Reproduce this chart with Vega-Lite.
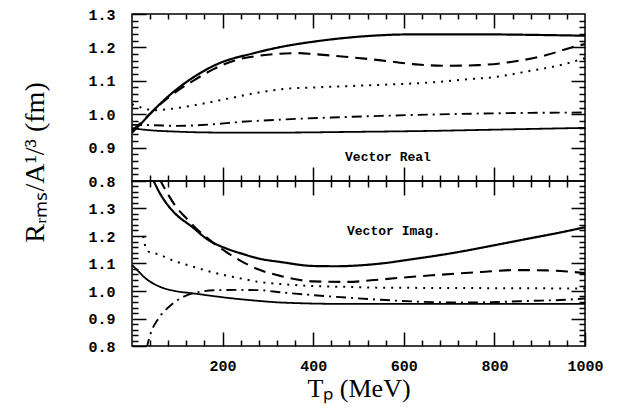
{
  "$schema": "https://vega.github.io/schema/vega-lite/v6.json",
  "padding": {"left": 20, "top": 6, "right": 5, "bottom": 5},
  "spacing": 0,
  "bounds": "flush",
  "config": {
    "view": {"stroke": "black", "strokeWidth": 1.5},
    "axis": {
      "domain": false, "grid": false, "ticks": true,
      "labelFont": "Liberation Mono", "labelFontSize": 15, "labelFontWeight": "bold", "labelColor": "black",
      "tickColor": "black", "tickWidth": 1.5, "tickOpacity": 1,
      "titleFont": "Liberation Serif", "titleFontWeight": "normal", "titleColor": "black",
      "labelOverlap": false, "labelFlush": false
    }
  },
  "datasets": {
    "real": [
      {"T": 0, "v": 0.945, "s": "thick"}, {"T": 20, "v": 0.972, "s": "thick"}, {"T": 50, "v": 1.015, "s": "thick"}, {"T": 90, "v": 1.065, "s": "thick"}, {"T": 135, "v": 1.11, "s": "thick"}, {"T": 185, "v": 1.148, "s": "thick"}, {"T": 270, "v": 1.183, "s": "thick"}, {"T": 335, "v": 1.203, "s": "thick"}, {"T": 400, "v": 1.217, "s": "thick"}, {"T": 510, "v": 1.233, "s": "thick"}, {"T": 620, "v": 1.239, "s": "thick"}, {"T": 770, "v": 1.239, "s": "thick"}, {"T": 910, "v": 1.237, "s": "thick"}, {"T": 1000, "v": 1.235, "s": "thick"},
      {"T": 0, "v": 0.95, "s": "dash"}, {"T": 20, "v": 0.975, "s": "dash"}, {"T": 50, "v": 1.015, "s": "dash"}, {"T": 90, "v": 1.06, "s": "dash"}, {"T": 135, "v": 1.1, "s": "dash"}, {"T": 180, "v": 1.135, "s": "dash"}, {"T": 225, "v": 1.16, "s": "dash"}, {"T": 300, "v": 1.178, "s": "dash"}, {"T": 370, "v": 1.183, "s": "dash"}, {"T": 400, "v": 1.18, "s": "dash"}, {"T": 470, "v": 1.172, "s": "dash"}, {"T": 545, "v": 1.162, "s": "dash"}, {"T": 620, "v": 1.15, "s": "dash"}, {"T": 690, "v": 1.145, "s": "dash"}, {"T": 765, "v": 1.147, "s": "dash"}, {"T": 840, "v": 1.157, "s": "dash"}, {"T": 915, "v": 1.177, "s": "dash"}, {"T": 970, "v": 1.2, "s": "dash"}, {"T": 1000, "v": 1.21, "s": "dash"},
      {"T": 0, "v": 1.03, "s": "dot"}, {"T": 20, "v": 1.02, "s": "dot"}, {"T": 50, "v": 1.012, "s": "dot"}, {"T": 80, "v": 1.015, "s": "dot"}, {"T": 130, "v": 1.025, "s": "dot"}, {"T": 206, "v": 1.045, "s": "dot"}, {"T": 280, "v": 1.065, "s": "dot"}, {"T": 330, "v": 1.075, "s": "dot"}, {"T": 400, "v": 1.08, "s": "dot"}, {"T": 475, "v": 1.084, "s": "dot"}, {"T": 550, "v": 1.088, "s": "dot"}, {"T": 620, "v": 1.092, "s": "dot"}, {"T": 670, "v": 1.096, "s": "dot"}, {"T": 735, "v": 1.104, "s": "dot"}, {"T": 805, "v": 1.112, "s": "dot"}, {"T": 880, "v": 1.13, "s": "dot"}, {"T": 955, "v": 1.15, "s": "dot"}, {"T": 1000, "v": 1.168, "s": "dot"},
      {"T": 0, "v": 0.968, "s": "dashdot"}, {"T": 50, "v": 0.967, "s": "dashdot"}, {"T": 95, "v": 0.965, "s": "dashdot"}, {"T": 170, "v": 0.969, "s": "dashdot"}, {"T": 240, "v": 0.977, "s": "dashdot"}, {"T": 330, "v": 0.984, "s": "dashdot"}, {"T": 440, "v": 0.99, "s": "dashdot"}, {"T": 550, "v": 0.995, "s": "dashdot"}, {"T": 660, "v": 0.999, "s": "dashdot"}, {"T": 770, "v": 1.002, "s": "dashdot"}, {"T": 880, "v": 1.004, "s": "dashdot"}, {"T": 1000, "v": 1.005, "s": "dashdot"},
      {"T": 0, "v": 0.958, "s": "thin"}, {"T": 40, "v": 0.952, "s": "thin"}, {"T": 95, "v": 0.948, "s": "thin"}, {"T": 200, "v": 0.945, "s": "thin"}, {"T": 330, "v": 0.945, "s": "thin"}, {"T": 480, "v": 0.947, "s": "thin"}, {"T": 660, "v": 0.95, "s": "thin"}, {"T": 810, "v": 0.954, "s": "thin"}, {"T": 1000, "v": 0.959, "s": "thin"}
    ],
    "imag": [
      {"T": 45, "v": 1.41, "s": "thick"}, {"T": 60, "v": 1.36, "s": "thick"}, {"T": 80, "v": 1.31, "s": "thick"}, {"T": 95, "v": 1.282, "s": "thick"}, {"T": 132, "v": 1.234, "s": "thick"}, {"T": 168, "v": 1.186, "s": "thick"}, {"T": 206, "v": 1.156, "s": "thick"}, {"T": 242, "v": 1.136, "s": "thick"}, {"T": 280, "v": 1.118, "s": "thick"}, {"T": 330, "v": 1.105, "s": "thick"}, {"T": 400, "v": 1.091, "s": "thick"}, {"T": 450, "v": 1.09, "s": "thick"}, {"T": 500, "v": 1.093, "s": "thick"}, {"T": 550, "v": 1.1, "s": "thick"}, {"T": 620, "v": 1.116, "s": "thick"}, {"T": 670, "v": 1.128, "s": "thick"}, {"T": 735, "v": 1.146, "s": "thick"}, {"T": 805, "v": 1.168, "s": "thick"}, {"T": 880, "v": 1.192, "s": "thick"}, {"T": 955, "v": 1.216, "s": "thick"}, {"T": 1000, "v": 1.232, "s": "thick"},
      {"T": 60, "v": 1.41, "s": "dash"}, {"T": 80, "v": 1.35, "s": "dash"}, {"T": 100, "v": 1.3, "s": "dash"}, {"T": 117, "v": 1.27, "s": "dash"}, {"T": 140, "v": 1.23, "s": "dash"}, {"T": 162, "v": 1.198, "s": "dash"}, {"T": 206, "v": 1.144, "s": "dash"}, {"T": 242, "v": 1.108, "s": "dash"}, {"T": 280, "v": 1.078, "s": "dash"}, {"T": 330, "v": 1.054, "s": "dash"}, {"T": 400, "v": 1.035, "s": "dash"}, {"T": 470, "v": 1.033, "s": "dash"}, {"T": 550, "v": 1.042, "s": "dash"}, {"T": 620, "v": 1.052, "s": "dash"}, {"T": 670, "v": 1.058, "s": "dash"}, {"T": 770, "v": 1.069, "s": "dash"}, {"T": 845, "v": 1.076, "s": "dash"}, {"T": 915, "v": 1.075, "s": "dash"}, {"T": 960, "v": 1.071, "s": "dash"}, {"T": 1000, "v": 1.065, "s": "dash"},
      {"T": 25, "v": 1.2, "s": "dot"}, {"T": 30, "v": 1.16, "s": "dot"}, {"T": 40, "v": 1.14, "s": "dot"}, {"T": 55, "v": 1.135, "s": "dot"}, {"T": 95, "v": 1.108, "s": "dot"}, {"T": 132, "v": 1.09, "s": "dot"}, {"T": 168, "v": 1.072, "s": "dot"}, {"T": 206, "v": 1.057, "s": "dot"}, {"T": 242, "v": 1.045, "s": "dot"}, {"T": 280, "v": 1.033, "s": "dot"}, {"T": 330, "v": 1.025, "s": "dot"}, {"T": 400, "v": 1.018, "s": "dot"}, {"T": 475, "v": 1.015, "s": "dot"}, {"T": 550, "v": 1.012, "s": "dot"}, {"T": 700, "v": 1.011, "s": "dot"}, {"T": 850, "v": 1.01, "s": "dot"}, {"T": 1000, "v": 1.009, "s": "dot"},
      {"T": 32, "v": 0.79, "s": "dashdot"}, {"T": 40, "v": 0.84, "s": "dashdot"}, {"T": 58, "v": 0.899, "s": "dashdot"}, {"T": 80, "v": 0.94, "s": "dashdot"}, {"T": 110, "v": 0.976, "s": "dashdot"}, {"T": 140, "v": 0.994, "s": "dashdot"}, {"T": 190, "v": 1.003, "s": "dashdot"}, {"T": 230, "v": 1.004, "s": "dashdot"}, {"T": 280, "v": 1.003, "s": "dashdot"}, {"T": 330, "v": 0.995, "s": "dashdot"}, {"T": 400, "v": 0.985, "s": "dashdot"}, {"T": 475, "v": 0.976, "s": "dashdot"}, {"T": 550, "v": 0.968, "s": "dashdot"}, {"T": 620, "v": 0.962, "s": "dashdot"}, {"T": 735, "v": 0.958, "s": "dashdot"}, {"T": 805, "v": 0.96, "s": "dashdot"}, {"T": 880, "v": 0.964, "s": "dashdot"}, {"T": 955, "v": 0.968, "s": "dashdot"}, {"T": 1000, "v": 0.973, "s": "dashdot"},
      {"T": 0, "v": 1.095, "s": "thin"}, {"T": 15, "v": 1.07, "s": "thin"}, {"T": 30, "v": 1.046, "s": "thin"}, {"T": 58, "v": 1.018, "s": "thin"}, {"T": 95, "v": 1.0, "s": "thin"}, {"T": 132, "v": 0.992, "s": "thin"}, {"T": 206, "v": 0.976, "s": "thin"}, {"T": 280, "v": 0.964, "s": "thin"}, {"T": 330, "v": 0.958, "s": "thin"}, {"T": 475, "v": 0.953, "s": "thin"}, {"T": 1000, "v": 0.953, "s": "thin"}
    ]
  },
  "vconcat": [
    {
      "width": 453, "height": 167,
      "layer": [
        {
          "data": {"name": "real"},
          "mark": {"type": "line", "interpolate": "monotone", "clip": true, "color": "black"},
          "encoding": {
            "x": {"field": "T", "type": "quantitative", "scale": {"domain": [0, 1000], "nice": false, "zero": false},
              "axis": {"orient": "bottom", "values": [200, 400, 600, 800], "labels": false, "title": null, "tickSize": 14, "offset": -14}},
            "y": {"field": "v", "type": "quantitative", "scale": {"domain": [0.8, 1.3], "nice": false, "zero": false},
              "axis": {"orient": "left", "values": [0.8, 0.9, 1.0, 1.1, 1.2, 1.3], "format": ".1f", "tickSize": 14, "offset": -14, "labelPadding": 17,
                "title": "Rᵣₘₛ/A¹/³ (fm)", "titleFontSize": 28, "titleX": -103, "titleY": 148, "titleAngle": -90, "titleAlign": "center", "titleBaseline": "alphabetic"}},
            "strokeDash": {"field": "s", "type": "nominal", "scale": {"domain": ["thick", "dash", "dot", "dashdot", "thin"], "range": [[1, 0], [12, 7], [2, 6], [10, 5, 2, 5], [1, 0]]}, "legend": null},
            "strokeWidth": {"field": "s", "type": "nominal", "scale": {"domain": ["thick", "dash", "dot", "dashdot", "thin"], "range": [2.2, 1.8, 2, 1.8, 1.2]}, "legend": null}
          }
        },
        {
          "data": {"name": "real"},
          "mark": {"type": "line", "opacity": 0},
          "encoding": {
            "x": {"field": "T", "type": "quantitative", "scale": {"domain": [0, 1000], "nice": false, "zero": false},
              "axis": {"orient": "bottom", "values": [40,80,120,160,240,280,320,360,440,480,520,560,640,680,720,760,840,880,920,960], "labels": false, "title": null, "tickSize": 6, "offset": -6}},
            "y": {"field": "v", "type": "quantitative", "scale": {"domain": [0.8, 1.3], "nice": false, "zero": false},
              "axis": {"orient": "left", "values": [0.82,0.84,0.86,0.88,0.92,0.94,0.96,0.98,1.02,1.04,1.06,1.08,1.12,1.14,1.16,1.18,1.22,1.24,1.26,1.28], "labels": false, "title": null, "tickSize": 6, "offset": -6}},
            "detail": {"field": "s"}
          }
        },
        {
          "data": {"name": "real"},
          "mark": {"type": "line", "opacity": 0},
          "encoding": {
            "x": {"field": "T", "type": "quantitative", "scale": {"domain": [0, 1000], "nice": false, "zero": false},
              "axis": {"orient": "top", "values": [200, 400, 600, 800], "labels": false, "title": null, "tickSize": 14, "offset": -14}},
            "y": {"field": "v", "type": "quantitative", "scale": {"domain": [0.8, 1.3], "nice": false, "zero": false},
              "axis": {"orient": "right", "values": [0.9, 1.0, 1.1, 1.2], "labels": false, "title": null, "tickSize": 14, "offset": -14}},
            "detail": {"field": "s"}
          }
        },
        {
          "data": {"name": "real"},
          "mark": {"type": "line", "opacity": 0},
          "encoding": {
            "x": {"field": "T", "type": "quantitative", "scale": {"domain": [0, 1000], "nice": false, "zero": false},
              "axis": {"orient": "top", "values": [40,80,120,160,240,280,320,360,440,480,520,560,640,680,720,760,840,880,920,960], "labels": false, "title": null, "tickSize": 5, "offset": -5}},
            "y": {"field": "v", "type": "quantitative", "scale": {"domain": [0.8, 1.3], "nice": false, "zero": false},
              "axis": {"orient": "right", "values": [0.82,0.84,0.86,0.88,0.92,0.94,0.96,0.98,1.02,1.04,1.06,1.08,1.12,1.14,1.16,1.18,1.22,1.24,1.26,1.28], "labels": false, "title": null, "tickSize": 6, "offset": -6}},
            "detail": {"field": "s"}
          }
        },
        {
          "data": {"values": [{}]},
          "mark": {"type": "text", "font": "Liberation Mono", "fontWeight": "bold", "fontSize": 13, "color": "black", "align": "center", "baseline": "middle"},
          "encoding": {
            "x": {"datum": 565, "type": "quantitative", "axis": null},
            "y": {"datum": 0.871, "type": "quantitative", "axis": null},
            "text": {"value": "Vector Real"}
          }
        }
      ],
      "resolve": {"axis": {"x": "independent", "y": "independent"}}
    },
    {
      "width": 453, "height": 165,
      "layer": [
        {
          "data": {"name": "imag"},
          "mark": {"type": "line", "interpolate": "monotone", "clip": true, "color": "black"},
          "encoding": {
            "x": {"field": "T", "type": "quantitative", "scale": {"domain": [0, 1000], "nice": false, "zero": false},
              "axis": {"orient": "bottom", "values": [200, 400, 600, 800, 1000], "format": "d", "tickSize": 14, "offset": -14, "labelPadding": 12,
                "title": "Tₚ (MeV)", "titleFontSize": 26, "titlePadding": 2}},
            "y": {"field": "v", "type": "quantitative", "scale": {"domain": [0.8, 1.4], "nice": false, "zero": false},
              "axis": {"orient": "left", "values": [0.8, 0.9, 1.0, 1.1, 1.2, 1.3], "format": ".1f", "tickSize": 14, "offset": -14, "labelPadding": 17, "title": null}},
            "strokeDash": {"field": "s", "type": "nominal", "scale": {"domain": ["thick", "dash", "dot", "dashdot", "thin"], "range": [[1, 0], [12, 7], [2, 6], [10, 5, 2, 5], [1, 0]]}, "legend": null},
            "strokeWidth": {"field": "s", "type": "nominal", "scale": {"domain": ["thick", "dash", "dot", "dashdot", "thin"], "range": [2.2, 1.8, 2, 1.8, 1.2]}, "legend": null}
          }
        },
        {
          "data": {"name": "imag"},
          "mark": {"type": "line", "opacity": 0},
          "encoding": {
            "x": {"field": "T", "type": "quantitative", "scale": {"domain": [0, 1000], "nice": false, "zero": false},
              "axis": {"orient": "bottom", "values": [40,80,120,160,240,280,320,360,440,480,520,560,640,680,720,760,840,880,920,960], "labels": false, "title": null, "tickSize": 6, "offset": -6}},
            "y": {"field": "v", "type": "quantitative", "scale": {"domain": [0.8, 1.4], "nice": false, "zero": false},
              "axis": {"orient": "left", "values": [0.82,0.84,0.86,0.88,0.92,0.94,0.96,0.98,1.02,1.04,1.06,1.08,1.12,1.14,1.16,1.18,1.22,1.24,1.26,1.28,1.32,1.34,1.36,1.38], "labels": false, "title": null, "tickSize": 6, "offset": -6}},
            "detail": {"field": "s"}
          }
        },
        {
          "data": {"name": "imag"},
          "mark": {"type": "line", "opacity": 0},
          "encoding": {
            "x": {"field": "T", "type": "quantitative", "scale": {"domain": [0, 1000], "nice": false, "zero": false},
              "axis": {"orient": "top", "values": [200, 400, 600, 800], "labels": false, "title": null, "tickSize": 14, "offset": -14}},
            "y": {"field": "v", "type": "quantitative", "scale": {"domain": [0.8, 1.4], "nice": false, "zero": false},
              "axis": {"orient": "right", "values": [0.9, 1.0, 1.1, 1.2, 1.3], "labels": false, "title": null, "tickSize": 14, "offset": -14}},
            "detail": {"field": "s"}
          }
        },
        {
          "data": {"name": "imag"},
          "mark": {"type": "line", "opacity": 0},
          "encoding": {
            "x": {"field": "T", "type": "quantitative", "scale": {"domain": [0, 1000], "nice": false, "zero": false},
              "axis": {"orient": "top", "values": [40,80,120,160,240,280,320,360,440,480,520,560,640,680,720,760,840,880,920,960], "labels": false, "title": null, "tickSize": 6, "offset": -6}},
            "y": {"field": "v", "type": "quantitative", "scale": {"domain": [0.8, 1.4], "nice": false, "zero": false},
              "axis": {"orient": "right", "values": [0.82,0.84,0.86,0.88,0.92,0.94,0.96,0.98,1.02,1.04,1.06,1.08,1.12,1.14,1.16,1.18,1.22,1.24,1.26,1.28,1.32,1.34,1.36,1.38], "labels": false, "title": null, "tickSize": 6, "offset": -6}},
            "detail": {"field": "s"}
          }
        },
        {
          "data": {"values": [{}]},
          "mark": {"type": "text", "font": "Liberation Mono", "fontWeight": "bold", "fontSize": 13, "color": "black", "align": "center", "baseline": "middle"},
          "encoding": {
            "x": {"datum": 578, "type": "quantitative", "axis": null},
            "y": {"datum": 1.22, "type": "quantitative", "axis": null},
            "text": {"value": "Vector Imag."}
          }
        }
      ],
      "resolve": {"axis": {"x": "independent", "y": "independent"}}
    }
  ]
}
